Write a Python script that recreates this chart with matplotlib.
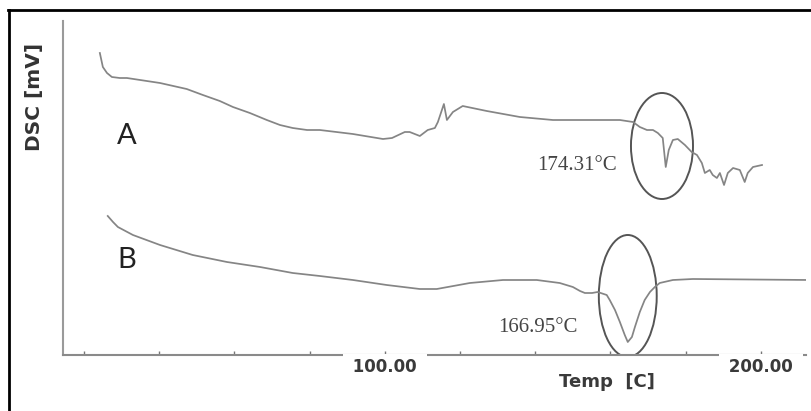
import matplotlib
matplotlib.use("Agg")
import matplotlib.pyplot as plt
from matplotlib.patches import Ellipse
from matplotlib.lines import Line2D

# ---------------- data ----------------
temp_a = [24.2, 25.0, 26.1, 27.4, 29.5, 31.4, 40.2, 47.3, 51.6, 56.1, 59.6, 64.1,
          68.6, 72.1, 75.5, 79.3, 82.7, 91.5,
          99.5, 101.9, 105.3, 106.6, 109.3, 111.4, 113.3, 114.1, 115.7, 116.5, 118.1,
          120.7, 127.1, 135.9, 144.7, 151.9, 162.5, 166.0, 167.8, 169.7, 171.3, 172.6,
          173.9, 174.7, 175.5, 176.6, 177.9, 179.8, 181.6, 183.0, 184.3, 185.1, 186.4,
          187.2, 188.3, 189.1, 190.2, 191.2, 192.6, 194.4, 195.7, 196.5, 197.9, 200.3]
dsc_a = [30.2, 28.8, 28.2, 27.8, 27.7, 27.7, 27.2, 26.6, 26.0, 25.4, 24.8, 24.2,
         23.5, 23.0, 22.7, 22.5, 22.5, 22.1,
         21.6, 21.7, 22.3, 22.3, 21.9, 22.5, 22.7, 23.3, 25.1, 23.5, 24.3,
         24.9, 24.4, 23.8, 23.5, 23.5, 23.5, 23.3, 22.8, 22.5, 22.5, 22.2,
         21.7, 18.8, 20.5, 21.5, 21.6, 21.0, 20.3, 20.0, 19.2, 18.2, 18.5,
         18.0, 17.7, 18.2, 17.0, 18.2, 18.7, 18.5, 17.3, 18.2, 18.8, 19.0]

temp_b = [26.3, 27.7, 29.0, 33.0, 40.2, 48.9, 58.0, 66.8, 75.5, 82.7, 91.5, 100.5,
          109.3, 113.8, 122.6, 131.4, 140.4, 146.5, 150.0, 151.9, 153.2, 155.1, 156.6,
          159.0, 159.8, 161.2, 162.5, 163.8, 164.6, 165.7, 166.5, 167.8, 169.1, 170.5,
          171.8, 173.1, 176.6, 181.9, 213.0]
dsc_b = [13.9, 13.3, 12.8, 12.0, 11.0, 10.0, 9.3, 8.8, 8.2, 7.9, 7.5, 7.0,
         6.6, 6.6, 7.2, 7.5, 7.5, 7.2, 6.8, 6.4, 6.2, 6.2, 6.3,
         6.0, 5.5, 4.5, 3.3, 2.0, 1.3, 1.8, 2.8, 4.3, 5.5, 6.3,
         6.8, 7.2, 7.5, 7.6, 7.5]

x_ticks = [20, 40, 60, 80, 100, 120, 140, 160, 180, 200]
x_tick_labels = {100: "100.00", 200: "200.00"}
peak_a_label = "174.31°C"
peak_b_label = "166.95°C"

# ---------------- figure ----------------
fig = plt.figure(figsize=(8.11, 4.11), dpi=100)
fig.patch.set_facecolor("white")
ax = fig.add_axes([63 / 811, 1 - 355 / 411, 743 / 811, 334 / 411])
ax.set_xlim(14.4, 212.0)
ax.set_ylim(0, 33.4)

curve_color = "#858585"
ax.plot(temp_a, dsc_a, color=curve_color, lw=1.25, solid_joinstyle="round")
ax.plot(temp_b, dsc_b, color=curve_color, lw=1.25, solid_joinstyle="round")

# highlight ellipses around the melting peaks
ax.add_patch(Ellipse((173.7, 20.9), 16.5, 10.6, fill=False, ec="#555555", lw=1.4))
ax.add_patch(Ellipse((164.6, 5.9), 15.4, 12.2, fill=False, ec="#555555", lw=1.4))

# spines
for s in ("top", "right"):
    ax.spines[s].set_visible(False)
ax.spines["left"].set_color("#9a9a9a")
ax.spines["left"].set_linewidth(1.5)
ax.spines["bottom"].set_color("#8a8a8a")
ax.spines["bottom"].set_linewidth(1.5)

ax.set_yticks([])
ax.set_xticks(x_ticks)
ax.set_xticklabels([])
ax.tick_params(axis="x", direction="in", length=3, width=1, color="#777777")

for t, lab in x_tick_labels.items():
    ax.annotate(" " + lab + " ", xy=(t, 0), xytext=(0, -2.2), textcoords="offset points",
                ha="center", va="top", fontsize=12, fontweight="bold",
                family="DejaVu Sans", color="#3a3a3a",
                bbox=dict(fc="white", ec="none", pad=3), annotation_clip=False)

ax.text(0.732, -0.081, "Temp  [C]", transform=ax.transAxes, ha="center", va="center",
        fontsize=13, fontweight="bold", family="DejaVu Sans", color="#3a3a3a")
ax.text(-0.0377, 0.772, "DSC [mV]", transform=ax.transAxes, ha="center", va="center",
        rotation=90, fontsize=14.5, fontweight="bold", family="DejaVu Sans", color="#333333")

ax.text(31.4, 21.9, "A", ha="center", va="center", fontsize=21, family="Lato", color="#222222")
ax.text(31.4, 9.5, "B", ha="center", va="center", fontsize=21, family="Lato", color="#222222")

ax.text(151.1, 19.0, peak_a_label, ha="center", va="center", fontsize=15,
        family="Liberation Serif", color="#444444")
ax.text(140.7, 2.8, peak_b_label, ha="center", va="center", fontsize=15,
        family="Liberation Serif", color="#444444")

# outer black frame (top and left edges)
fig.add_artist(Line2D([8 / 811, 1], [1 - 10 / 411, 1 - 10 / 411], color="black", lw=2,
                      transform=fig.transFigure))
fig.add_artist(Line2D([9 / 811, 9 / 811], [0, 1 - 10 / 411], color="black", lw=2,
                      transform=fig.transFigure))

fig.savefig("out.png", dpi=100, facecolor="white")
